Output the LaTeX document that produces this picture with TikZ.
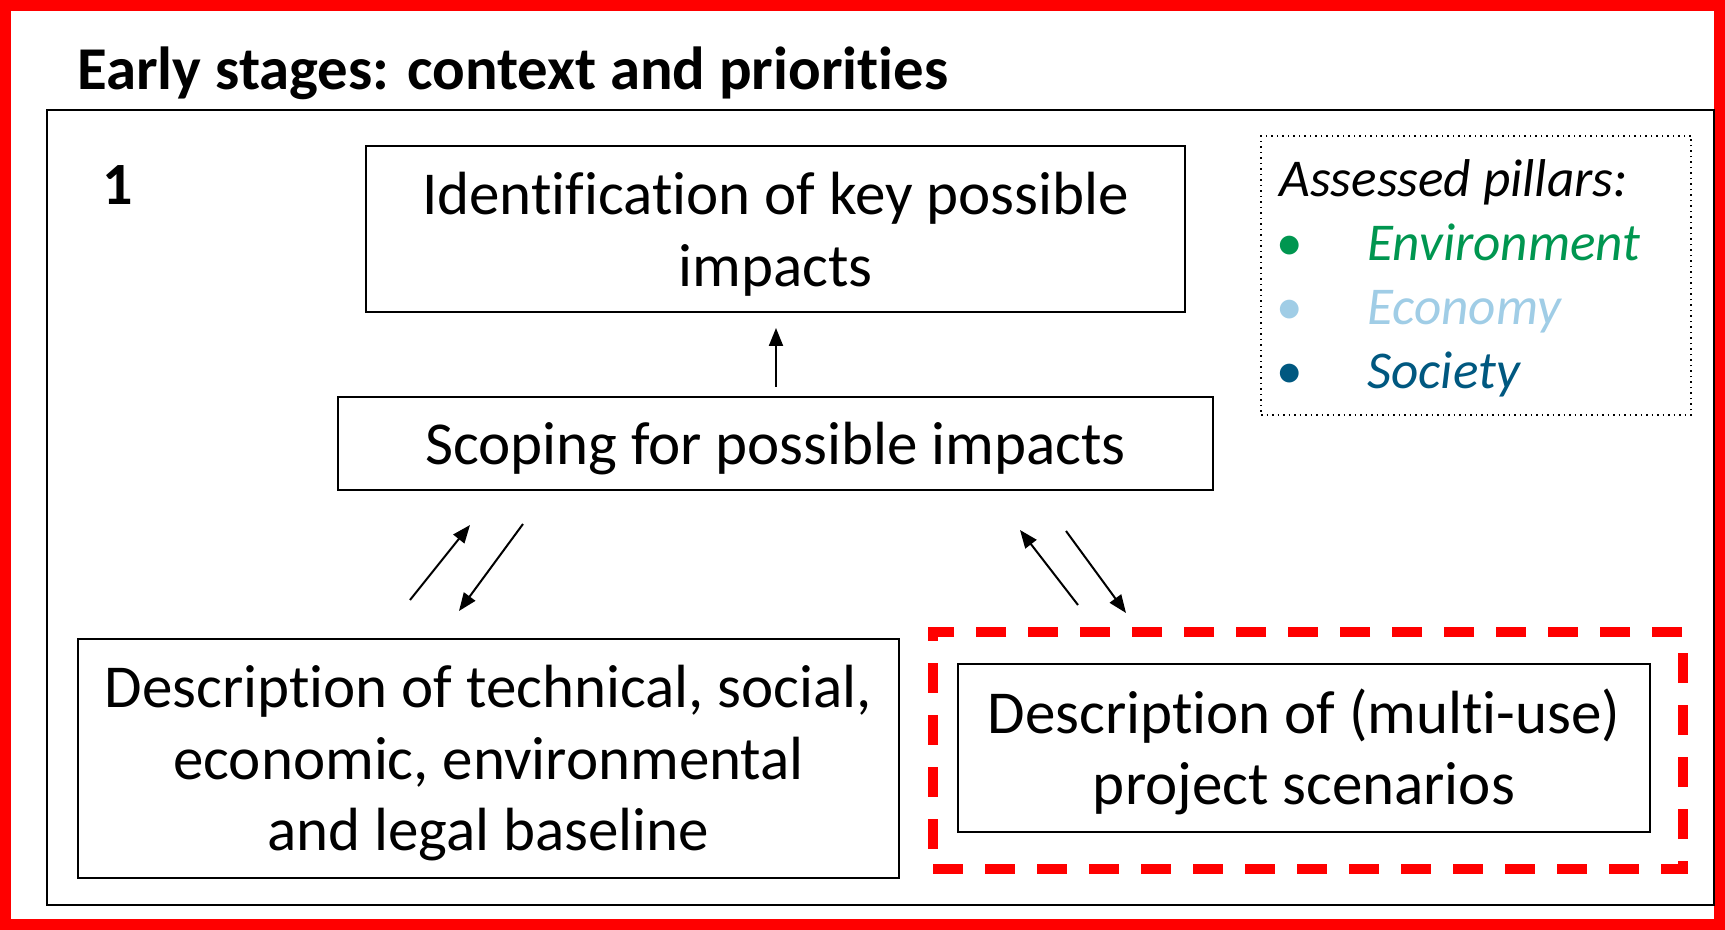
\documentclass[tikz,border=0pt]{standalone}
\usepackage{fontspec}
\setmainfont{Carlito}[Ligatures={NoCommon,NoContextual}]
\usetikzlibrary{arrows.meta}
\definecolor{envgreen}{RGB}{0,150,80}
\definecolor{ecoblue}{RGB}{160,205,230}
\definecolor{socblue}{RGB}{0,88,128}
\definecolor{bordred}{RGB}{255,0,0}
\begin{document}
\begin{tikzpicture}[x=0.5pt,y=-0.5pt,
  boxframe/.style={draw, line width=0.75pt, inner sep=0pt},
  boxtext/.style={align=center, inner sep=0pt, font=\fontsize{30.5}{35.75}\selectfont},
  arr/.style={-{Triangle[length=9pt,width=7pt]}, line width=1pt},
  legtext/.style={anchor=base west, inner sep=0pt, font=\fontsize{26.6}{31}\selectfont\itshape}]
\useasboundingbox (0,0) rectangle (1725,930);
\draw[bordred, line width=5.5pt] (5.5,5.5) rectangle (1719.5,924.5);
\node[draw, line width=1pt, minimum width=833.5pt, minimum height=397.5pt, inner sep=0pt] (frame) at (880.5,507.5) {};
\node[anchor=base west, inner sep=0pt, font=\fontsize{30.4}{36}\selectfont\bfseries] (title) at (77,90) {Early stages: context and priorities};
\node[anchor=base west, inner sep=0pt, font=\fontsize{30}{36}\selectfont\bfseries] (num) at (102,205) {1};
\node[boxframe, minimum width=409.5pt, minimum height=83pt] (ident) at (775.5,229) {};
\node[boxtext] (identt) at ([yshift=-2.5pt]ident.center) {Identification of key possible\\impacts};
\node[boxframe, minimum width=437.5pt, minimum height=46.5pt] (scop) at (775.5,443.5) {};
\node[boxtext] (scopt) at ([yshift=-2.5pt]scop.center) {Scoping for possible impacts};
\node[boxframe, minimum width=410.5pt, minimum height=119.5pt] (base) at (488.5,758.5) {};
\node[boxtext] (baset) at ([yshift=-2.5pt]base.center) {Description of technical, social,\\economic, environmental\\and legal baseline};
\node[draw=bordred, line width=5pt, dash pattern=on 15pt off 11pt, minimum width=375pt, minimum height=118.5pt, inner sep=0pt] (red) at (1308,750.5) {};
\node[boxframe, minimum width=346pt, minimum height=84pt] (scen) at (1304,748) {};
\node[boxtext] (scent) at ([yshift=-2pt]scen.center) {Description of (multi-use)\\project scenarios};
\node[draw, dotted, line width=0.75pt, minimum width=215pt, minimum height=139.5pt, inner sep=0pt] (leg) at (1476,275.5) {};
\node[legtext] (lt) at (1279,197) {Assessed pillars:};
\node[legtext, text=envgreen] (b1) at (1276,261) {\upshape•};
\node[legtext, text=envgreen] (l1) at (1367,261) {Environment};
\node[legtext, text=ecoblue] (b2) at (1276,325) {\upshape•};
\node[legtext, text=ecoblue] (l2) at (1367,325) {Economy};
\node[legtext, text=socblue] (b3) at (1276,389) {\upshape•};
\node[legtext, text=socblue] (l3) at (1367,389) {Society};
\coordinate (u1) at (776,387); \coordinate (u2) at (776,328);
\coordinate (a1s) at (410,600); \coordinate (a1e) at (470,525);
\coordinate (a2s) at (523,524); \coordinate (a2e) at (459,611);
\coordinate (a3s) at (1078,605); \coordinate (a3e) at (1020,530);
\coordinate (a4s) at (1066,531); \coordinate (a4e) at (1126,613);
\draw[arr] (u1) -- (u2);
\draw[arr] (a1s) -- (a1e);
\draw[arr] (a2s) -- (a2e);
\draw[arr] (a3s) -- (a3e);
\draw[arr] (a4s) -- (a4e);
\end{tikzpicture}
\end{document}
